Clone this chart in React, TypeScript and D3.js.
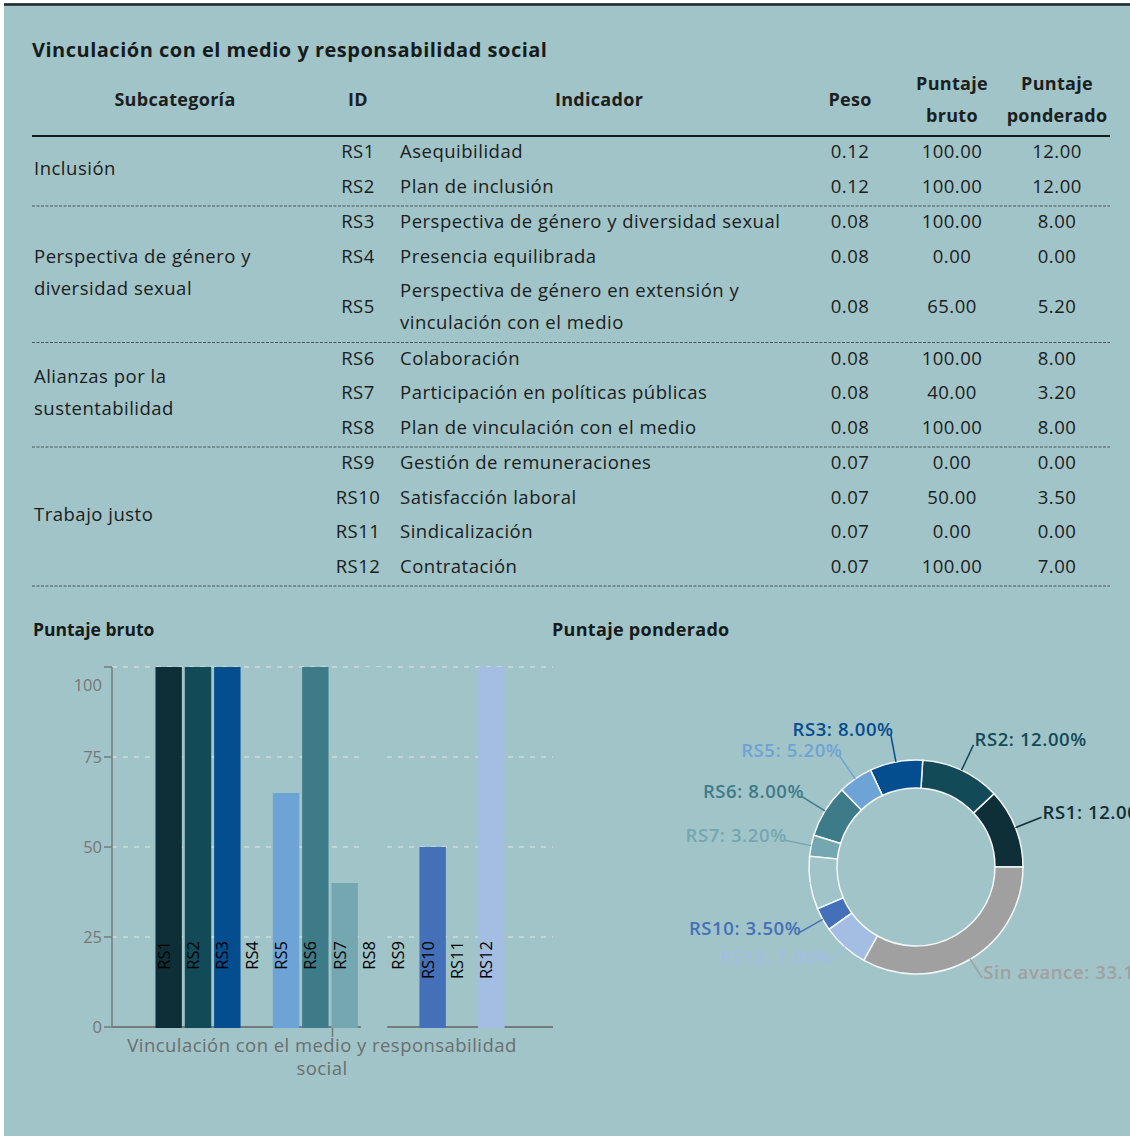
import React from "react";
import * as d3 from "d3";

const W = 1130;
const H = 1136;
const BG = "#a1c4c8";
const FONT = "'Open Sans', 'Noto Sans', sans-serif";

// ---------- data ----------
const ids = ["RS1", "RS2", "RS3", "RS4", "RS5", "RS6", "RS7", "RS8", "RS9", "RS10", "RS11", "RS12"];
const indicators = [
  ["Asequibilidad"],
  ["Plan de inclusión"],
  ["Perspectiva de género y diversidad sexual"],
  ["Presencia equilibrada"],
  ["Perspectiva de género en extensión y", "vinculación con el medio"],
  ["Colaboración"],
  ["Participación en políticas públicas"],
  ["Plan de vinculación con el medio"],
  ["Gestión de remuneraciones"],
  ["Satisfacción laboral"],
  ["Sindicalización"],
  ["Contratación"],
];
const pesos = [0.12, 0.12, 0.08, 0.08, 0.08, 0.08, 0.08, 0.08, 0.07, 0.07, 0.07, 0.07];
const brutos = [100, 100, 100, 0, 65, 100, 40, 100, 0, 50, 0, 100];
const ponderados = [12, 12, 8, 0, 5.2, 8, 3.2, 8, 0, 3.5, 0, 7];
const subcatNames = [
  ["Inclusión"],
  ["Perspectiva de género y", "diversidad sexual"],
  ["Alianzas por la", "sustentabilidad"],
  ["Trabajo justo"],
];
const subcatSizes = [2, 3, 3, 4];
const colors = [
  "#0f2f38", "#134a57", "#044d8f", "#2a6f8a", "#6ea3d5", "#3e7b88",
  "#74a7b0", BG, "#5b7fa8", "#4470b9", "#7f9cc9", "#a3bde3",
];
const sinAvanceLabel = "Sin avance";
const sinAvanceColor = "#a0a0a0";
const yTicks = [0, 25, 50, 75, 100];
const categoryTitle = ["Vinculación con el medio y responsabilidad", "social"];

// ---------- table layout ----------
function tableLayout() {
  const rows: { y: number; lines: number[] }[] = [];
  const groups: { top: number; bottom: number; center: number }[] = [];
  const seps: number[] = [];
  let y = 136;
  let r = 0;
  subcatSizes.forEach((n) => {
    const top = y;
    let cur = y + 16;
    const first = cur;
    let last = cur;
    for (let k = 0; k < n; k++) {
      const nl = indicators[r].length;
      const lines: number[] = [];
      for (let j = 0; j < nl; j++) {
        lines.push(cur + j * 32);
      }
      last = lines[lines.length - 1];
      rows.push({ y: (lines[0] + last) / 2, lines });
      cur = last + 34.5;
      r++;
    }
    const sep = last + 19.5;
    groups.push({ top, bottom: sep, center: (first + last) / 2 });
    seps.push(sep);
    y = sep;
  });
  return { rows, groups, seps };
}

function Table() {
  const { rows, groups, seps } = tableLayout();
  const txt = { fontFamily: FONT, fontSize: 18.5, fontWeight: 500, letterSpacing: 0.5, fill: "#1a2020" };
  const hdr = { fontFamily: FONT, fontSize: 18, fontWeight: 700, letterSpacing: 0.3, fill: "#1a2020" };
  const xSub = 34, xId = 358, xInd = 400, xPeso = 850, xBruto = 952, xPond = 1057;
  return (
    <g>
      <text x={32} y={57} style={{ fontFamily: FONT, fontSize: 20, fontWeight: 700, letterSpacing: 0.5, fill: "#161c1c" }}>
        Vinculación con el medio y responsabilidad social
      </text>
      <g style={hdr} textAnchor="middle">
        <text x={175} y={106}>Subcategoría</text>
        <text x={xId} y={106}>ID</text>
        <text x={599} y={106}>Indicador</text>
        <text x={xPeso} y={106}>Peso</text>
        <text x={xBruto} y={90}>Puntaje</text>
        <text x={xBruto} y={122}>bruto</text>
        <text x={xPond} y={90}>Puntaje</text>
        <text x={xPond} y={122}>ponderado</text>
      </g>
      <line x1={32} x2={1110} y1={136} y2={136} stroke="#161b1b" strokeWidth={2} />
      {seps.map((s, i) => (
        <line key={i} x1={32} x2={1110} y1={s} y2={s} stroke="#4a5555" strokeWidth={1.2} strokeDasharray="3,1.5" />
      ))}
      {groups.map((g, i) => {
        const names = subcatNames[i];
        const pitch = 32;
        const y0 = g.center - ((names.length - 1) * pitch) / 2;
        return names.map((nm, j) => (
          <text key={i + "-" + j} x={xSub} y={y0 + j * pitch + 6} style={txt}>
            {nm}
          </text>
        ));
      })}
      {rows.map((row, i) => (
        <g key={ids[i]}>
          <text x={xId} y={row.y + 6} textAnchor="middle" style={txt}>{ids[i]}</text>
          {indicators[i].map((l, j) => (
            <text key={j} x={xInd} y={row.lines[j] + 6} style={txt}>{l}</text>
          ))}
          <text x={xPeso} y={row.y + 6} textAnchor="middle" style={txt}>{pesos[i].toFixed(2)}</text>
          <text x={xBruto} y={row.y + 6} textAnchor="middle" style={txt}>{brutos[i].toFixed(2)}</text>
          <text x={xPond} y={row.y + 6} textAnchor="middle" style={txt}>{ponderados[i].toFixed(2)}</text>
        </g>
      ))}
    </g>
  );
}

function BarChart() {
  const y = d3.scaleLinear().domain([0, 100]).range([1027, 667]);
  const x = d3.scaleBand<string>().domain(ids).range([154, 506]).paddingInner(0.1).paddingOuter(0.05);
  const left = 112, right = 553;
  const axisColor = "#737b7c";
  return (
    <g>
      <text x={33} y={636} style={{ fontFamily: FONT, fontSize: 17.5, fontWeight: 700, fill: "#151a1a" }}>
        Puntaje bruto
      </text>
      {yTicks.filter((t) => t > 0).map((t) => (
        <line key={"g" + t} x1={left} x2={right} y1={y(t)} y2={y(t)} stroke="#cddbdc" strokeWidth={1.5} strokeDasharray="5,6" />
      ))}
      <line x1={left} x2={right} y1={y(0)} y2={y(0)} stroke={axisColor} strokeWidth={1.8} />
      <line x1={left} x2={left} y1={y(100)} y2={y(0)} stroke={axisColor} strokeWidth={1.5} />
      {yTicks.map((t) => (
        <g key={"t" + t}>
          <line x1={left - 8} x2={left} y1={y(t)} y2={y(t)} stroke={axisColor} strokeWidth={1.5} />
          <text
            x={left - 10}
            y={y(t) + (t === 100 ? 24 : 6)}
            textAnchor="end"
            style={{ fontFamily: FONT, fontSize: 16.5, fill: "#777" }}
          >
            {t}
          </text>
        </g>
      ))}
      <line x1={(left + right) / 2} x2={(left + right) / 2} y1={y(0)} y2={y(0) + 10} stroke={axisColor} strokeWidth={1.5} />
      {ids.map((id, i) => (
        <rect
          key={id}
          x={x(id)}
          width={x.bandwidth()}
          y={y(brutos[i])}
          height={brutos[i] > 0 ? y(0) - y(brutos[i]) + 1 : 0}
          fill={colors[i]}
        />
      ))}
      {ids.map((id) => {
        const cx = (x(id) as number) + x.bandwidth() / 2 + 1;
        return (
          <text
            key={"l" + id}
            transform={`translate(${cx},941) rotate(-90)`}
            textAnchor="end"
            style={{ fontFamily: FONT, fontSize: 16.5, fill: "#000" }}
          >
            {id}
          </text>
        );
      })}
      <text
        x={322}
        y={1052}
        textAnchor="middle"
        style={{ fontFamily: FONT, fontSize: 18.5, letterSpacing: 0.45, fill: "#6a6f70" }}
      >
        {categoryTitle.map((t, i) => (
          <tspan key={t} x={322} dy={i === 0 ? 0 : 22.5}>
            {t}
          </tspan>
        ))}
      </text>
    </g>
  );
}

function Donut() {
  const cx = 916, cy = 867, rO = 107, rI = 79;
  const total = 100;
  const sum = d3.sum(ponderados);
  const values = [...ponderados, total - sum];
  const labels = [...ids, sinAvanceLabel];
  const cols = [...colors, sinAvanceColor];
  const pie = d3
    .pie<number>()
    .sort(null)
    .value((d) => d)
    .startAngle(Math.PI / 2)
    .endAngle(Math.PI / 2 - 2 * Math.PI);
  const arcs = pie(values);
  const arc = d3.arc<d3.PieArcDatum<number>>().innerRadius(rI).outerRadius(rO);
  return (
    <g>
      <text x={552} y={636} style={{ fontFamily: FONT, fontSize: 18, fontWeight: 700, letterSpacing: 0.3, fill: "#151a1a" }}>
        Puntaje ponderado
      </text>
      <g transform={`translate(${cx},${cy})`}>
        {arcs.map((a, i) => (
          <path key={i} d={arc(a) as string} fill={cols[i]} stroke="#f4f7f7" strokeWidth={1.5} />
        ))}
        {arcs.map((a, i) => {
          if (values[i] <= 0) return null;
          const mid = (a.startAngle + a.endAngle) / 2;
          const sx = Math.sin(mid), sy = -Math.cos(mid);
          const p0 = [rO * sx, rO * sy];
          const lower = sy > 0.5;
          const dist = lower ? 24 : 28;
          const p1 = [(rO + dist) * sx, (rO + dist) * sy - (lower ? 2 : 0)];
          const rightSide = sx > 0;
          const txt = `${labels[i]}: ${values[i].toFixed(2)}%`;
          return (
            <g key={"lab" + i}>
              <line x1={p0[0]} y1={p0[1]} x2={p1[0]} y2={p1[1]} stroke={cols[i]} strokeWidth={1.5} />
              <text
                x={p1[0] + (rightSide ? 1 : 3)}
                y={p1[1] + 1.5}
                textAnchor={rightSide ? "start" : "end"}
                style={{ fontFamily: FONT, fontSize: 18.5, fontWeight: 600, letterSpacing: 0.6, fill: cols[i] }}
              >
                {txt}
              </text>
            </g>
          );
        })}
      </g>
    </g>
  );
}

export default function App() {
  return (
    <div style={{ position: "absolute", left: 0, top: 0 }}>
      <svg width={W} height={H} style={{ display: "block" }}>
        <rect x={0} y={0} width={W} height={H} fill="#ffffff" />
        <rect x={4} y={3} width={W - 4} height={H - 3} fill={BG} />
        <line x1={4} x2={W} y1={4.5} y2={4.5} stroke="#1e2a2c" strokeWidth={2.5} />
        <Table />
        <BarChart />
        <Donut />
      </svg>
    </div>
  );
}
